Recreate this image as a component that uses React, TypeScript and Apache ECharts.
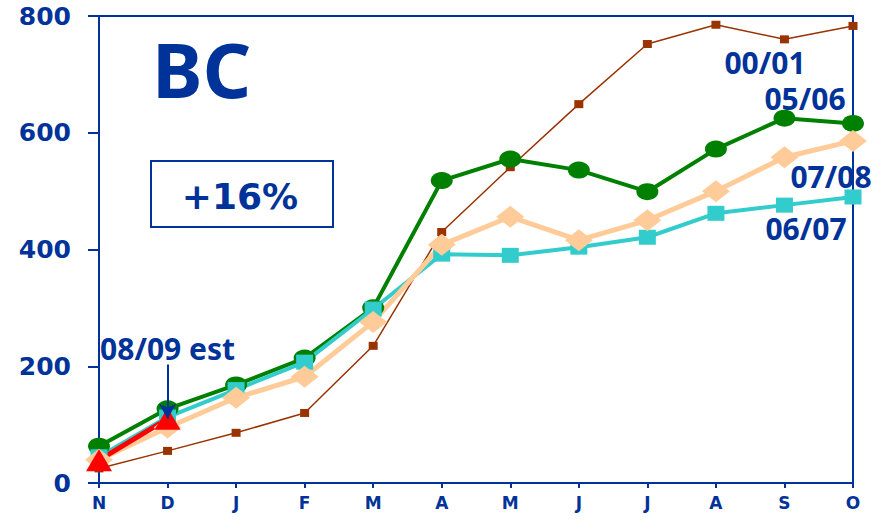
import React, { useEffect, useRef } from "react";
import * as echarts from "echarts";

const months = ["N", "D", "J", "F", "M", "A", "M", "J", "J", "A", "S", "O"];
const s0001 = [25, 55, 86, 120, 235, 430, 541, 649, 752, 785, 760, 783];
const s0506 = [63, 127, 168, 214, 300, 518, 555, 536, 499, 572, 625, 616];
const s0607 = [45, 113, 160, 207, 298, 392, 390, 404, 421, 462, 476, 490];
const s0708 = [40, 95, 146, 182, 276, 408, 456, 416, 450, 500, 558, 586];
const s0809 = [39, 110];
const yTicks = { min: 0, max: 800, interval: 200 };

const NAVY = "#003399";

export default function App() {
  const ref = useRef<HTMLDivElement>(null);
  useEffect(() => {
    document.body.style.margin = "0";
    const chart = echarts.init(ref.current!, null, { renderer: "svg" });
    const labelFont = { fontFamily: "Noto Sans", fontWeight: "bold", fill: NAVY };
    chart.setOption({
      animation: false,
      backgroundColor: "#ffffff",
      grid: {
        left: 99,
        right: 32,
        top: 16,
        bottom: 47,
        show: true,
        borderColor: NAVY,
        borderWidth: 2,
      },
      xAxis: {
        type: "category",
        data: months,
        boundaryGap: false,
        axisLine: { lineStyle: { color: NAVY, width: 2 } },
        axisTick: { alignWithLabel: true, length: 5, lineStyle: { color: NAVY, width: 2 } },
        axisLabel: {
          color: NAVY,
          fontFamily: "DejaVu Sans",
          fontWeight: "bold",
          fontSize: 17,
          margin: 11,
        },
        splitLine: { show: false },
      },
      yAxis: {
        type: "value",
        min: yTicks.min,
        max: yTicks.max,
        interval: yTicks.interval,
        axisLine: { show: true, lineStyle: { color: NAVY, width: 2 } },
        axisTick: { show: true, length: 11, lineStyle: { color: NAVY, width: 2 } },
        axisLabel: {
          color: NAVY,
          fontFamily: "DejaVu Sans",
          fontWeight: "bold",
          fontSize: 25,
          margin: 28,
        },
        splitLine: { show: false },
      },
      series: [
        {
          name: "00/01",
          type: "line",
          data: s0001,
          symbol: "rect",
          symbolSize: [9, 8],
          lineStyle: { color: "#993300", width: 1.5 },
          itemStyle: { color: "#993300" },
        },
        {
          name: "05/06",
          type: "line",
          data: s0506,
          symbol: "circle",
          symbolSize: [22, 17],
          lineStyle: { color: "#008000", width: 4 },
          itemStyle: { color: "#008000" },
        },
        {
          name: "06/07",
          type: "line",
          data: s0607,
          symbol: "rect",
          symbolSize: [17, 15],
          lineStyle: { color: "#33CCCC", width: 4 },
          itemStyle: { color: "#33CCCC" },
        },
        {
          name: "07/08",
          type: "line",
          data: s0708,
          symbol: "diamond",
          symbolSize: [28, 22],
          lineStyle: { color: "#FFCC99", width: 5 },
          itemStyle: { color: "#FFCC99" },
        },
        {
          name: "08/09 est",
          type: "line",
          data: s0809,
          symbol: "triangle",
          symbolSize: [26, 22],
          lineStyle: { color: "#FF0000", width: 5 },
          itemStyle: { color: "#FF0000" },
          markLine: {
            silent: true,
            symbol: ["none", "arrow"],
            symbolSize: [13, 15],
            lineStyle: { color: NAVY, width: 2, type: "solid" },
            label: {
              show: true,
              position: "start",
              distance: 1,
              formatter: "08/09 est",
              color: NAVY,
              fontFamily: "Noto Sans",
              fontWeight: "bold",
              fontSize: 30,
            },
            data: [[{ coord: [1, 203] }, { coord: [1, 110] }]],
          },
        },
      ],
      graphic: [
        {
          type: "text",
          left: 152,
          top: 30,
          style: { ...labelFont, text: "BC", fontSize: 76 },
        },
        {
          type: "rect",
          shape: { x: 151, y: 161, width: 182, height: 66 },
          style: { fill: "none", stroke: NAVY, lineWidth: 2 },
        },
        {
          type: "text",
          x: 240,
          y: 196,
          style: {
            text: "+16%",
            fontFamily: "DejaVu Sans",
            fontWeight: "bold",
            fontSize: 36,
            fill: NAVY,
            align: "center",
            verticalAlign: "middle",
          },
        },
        {
          type: "text",
          x: 765,
          y: 62,
          style: { ...labelFont, text: "00/01", fontSize: 30, align: "center", verticalAlign: "middle" },
        },
        {
          type: "text",
          x: 805,
          y: 98,
          style: { ...labelFont, text: "05/06", fontSize: 30, align: "center", verticalAlign: "middle" },
        },
        {
          type: "text",
          x: 831,
          y: 176,
          style: { ...labelFont, text: "07/08", fontSize: 30, align: "center", verticalAlign: "middle" },
        },
        {
          type: "text",
          x: 806,
          y: 228,
          style: { ...labelFont, text: "06/07", fontSize: 30, align: "center", verticalAlign: "middle" },
        },
      ],
    });
    return () => chart.dispose();
  }, []);
  return <div ref={ref} style={{ width: 885, height: 530 }} />;
}
